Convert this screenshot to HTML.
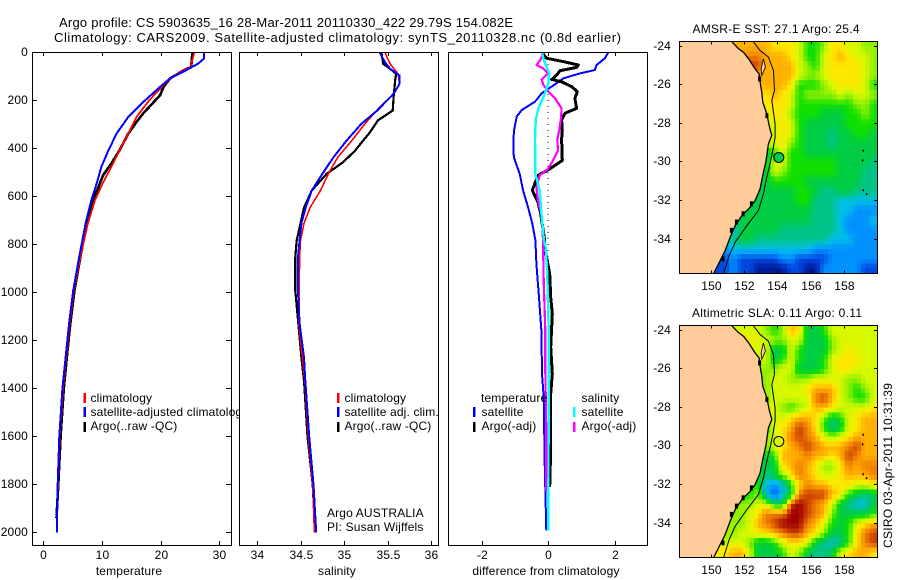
<!DOCTYPE html>
<html>
<head>
<meta charset="utf-8">
<title>Argo profile</title>
<style>
html,body{margin:0;padding:0;background:#fff;}
svg{display:block;}
text{font-family:"Liberation Sans",sans-serif;font-size:12px;fill:#000;letter-spacing:0.15px;}
text[textLength]{letter-spacing:0;}
.box{fill:none;stroke:#000;stroke-width:1;shape-rendering:crispEdges;}
.bg{fill:#fff;stroke:none;}
.sw{shape-rendering:crispEdges;}
</style>
</head>
<body>
<svg id="fig" xmlns="http://www.w3.org/2000/svg" width="900" height="580" viewBox="0 0 900 580">
<defs>
<clipPath id="clip-map1"><rect x="679.5" y="41.5" width="198" height="232"/></clipPath>
<clipPath id="clip-map2"><rect x="679.5" y="325.5" width="198" height="232"/></clipPath>
</defs>
<rect width="900" height="580" fill="#fff"/>
<text x="59" y="27" style="font-size:13px" textLength="454">Argo profile: CS 5903635_16 28-Mar-2011 20110330_422 29.79S 154.082E</text>
<text x="54" y="42" style="font-size:13px" textLength="567">Climatology: CARS2009. Satellite-adjusted climatology: synTS_20110328.nc (0.8d earlier)</text>

<g id="p1">
<rect class="bg" x="32" y="52" width="199" height="493"/>
<g id="p1-lines"></g>
<rect class="sw" x="83.5" y="393" width="2.5" height="10" fill="#f00"/>
<rect class="sw" x="83.5" y="407" width="2.5" height="10" fill="#00f"/>
<rect class="sw" x="83.5" y="422" width="2.5" height="10" fill="#000"/>
<text x="90.5" y="402">climatology</text>
<text x="90.5" y="416">satellite-adjusted climatology</text>
<text x="90.5" y="430">Argo(..raw -QC)</text>
<rect class="box" x="32.5" y="52.5" width="199" height="493"/>
<g id="p1-axes"></g>
<text x="129" y="575" text-anchor="middle">temperature</text>
</g>

<g id="p2">
<rect class="bg" x="239" y="48" width="205" height="500"/>
<g id="p2-lines"></g>
<rect class="sw" x="337" y="393" width="2.5" height="10" fill="#f00"/>
<rect class="sw" x="337" y="407" width="2.5" height="10" fill="#00f"/>
<rect class="sw" x="337" y="422" width="2.5" height="10" fill="#000"/>
<text x="344.5" y="402">climatology</text>
<text x="344.5" y="416">satellite adj. clim.</text>
<text x="344.5" y="430">Argo(..raw -QC)</text>
<text x="327" y="517">Argo AUSTRALIA</text>
<text x="327" y="531">PI: Susan Wijffels</text>
<rect class="box" x="239.5" y="52.5" width="199" height="493"/>
<g id="p2-axes"></g>
<text x="337" y="575" text-anchor="middle">salinity</text>
</g>

<g id="p3">
<g id="p3-lines"></g>
<text x="481" y="402">temperature</text>
<text x="481.5" y="416">satellite</text>
<text x="481.5" y="430">Argo(-adj)</text>
<text x="581.5" y="402">salinity</text>
<text x="581.5" y="416">satellite</text>
<text x="581.5" y="430">Argo(-adj)</text>
<rect class="sw" x="473" y="407" width="2.5" height="10" fill="#00f"/>
<rect class="sw" x="473" y="422" width="2.5" height="10" fill="#000"/>
<rect class="sw" x="573" y="407" width="2.5" height="10" fill="#0ff"/>
<rect class="sw" x="573" y="422" width="2.5" height="10" fill="#f0f"/>
<rect class="box" x="448.5" y="52.5" width="199" height="493"/>
<g id="p3-axes"></g>
<text x="546" y="575" text-anchor="middle">difference from climatology</text>
</g>

<g id="map1">
<text x="776" y="33" text-anchor="middle" textLength="167">AMSR-E SST: 27.1 Argo: 25.4</text>
<g id="map1-cells" clip-path="url(#clip-map1)"></g>
<rect class="box" x="679.5" y="41.5" width="198" height="232"/>
<g id="map1-axes"></g>
</g>

<g id="map2">
<text x="777" y="317" text-anchor="middle" textLength="170">Altimetric SLA: 0.11 Argo: 0.11</text>
<g id="map2-cells" clip-path="url(#clip-map2)"></g>
<rect class="box" x="679.5" y="325.5" width="198" height="232"/>
<g id="map2-axes"></g>
</g>
<text transform="translate(892,548) rotate(-90)" textLength="165">CSIRO 03-Apr-2011 10:31:39</text>
</svg>

<script>
// ---------- depth-profile data ----------
const depthTicks = [0,200,400,600,800,1000,1200,1400,1600,1800,2000];
const tempTicks = [0,10,20,30];
const salTicks = [34,34.5,35,35.5,36];
const salTickLabels = ['34','34.5','35','35.5','36'];
const diffTicks = [-2,0,2];

const tempClimDepth = [0,60,95,130,200,268,337,407,476,546,615,712,854,992,1129,1271,1400,1600,1800,2000];
const tempClim = [25.7,25.1,22.4,20.7,18,15.9,14.5,13,11.6,10.1,8.8,7.6,6.3,5.2,4.5,3.9,3.35,2.8,2.5,2.3];
const tempArgoDepth = [0,60,74,108,143,178,212,254,289,337,407,462,511,560,615,712,854,992,1129,1271,1400,1600,1800,1940];
const tempArgo = [25.4,25.2,23.9,21.6,20.5,19.9,18.6,17,15.9,14.5,13,11.6,10.2,9.4,8.5,7.4,6.3,5.3,4.6,4,3.5,2.95,2.55,2.25];
const tempSatDepth = [0,25,46,80,108,143,200,268,337,407,476,546,615,712,854,992,1129,1271,1400,1600,1800,2000];
const tempSat = [27.4,27.4,26.4,23.9,21.6,19.9,17.3,14.5,12.5,11.1,9.9,9.1,8.2,7.2,6.1,5.1,4.4,3.8,3.25,2.73,2.45,2.3];

const salClimDepth = [0,47,89,130,172,228,297,367,436,506,575,646,712,783,854,1129,1367,1600,1800,2000];
const salClim = [35.47,35.53,35.62,35.64,35.57,35.41,35.24,35.09,34.93,34.82,34.73,34.61,34.54,34.5,34.49,34.48,34.55,34.59,34.64,34.66];
const salArgoDepth = [0,47,68,89,110,186,242,283,332,367,408,457,506,575,646,712,783,854,992,1129,1271,1367,1600,1800,1940];
const salArgo = [35.43,35.45,35.53,35.6,35.59,35.57,35.56,35.39,35.3,35.22,35.13,34.99,34.8,34.63,34.54,34.5,34.456,34.44,34.44,34.475,34.51,34.54,34.58,34.64,34.66];
const salSatDepth = [0,40,68,96,130,172,242,297,367,436,506,575,646,712,783,854,992,1129,1271,1367,1600,1800,2000];
const salSat = [35.41,35.47,35.53,35.64,35.64,35.57,35.38,35.2,35.03,34.88,34.75,34.63,34.56,34.51,34.49,34.47,34.47,34.49,34.54,34.555,34.6,34.65,34.68];

const diffTempSatDepth = [0,24,52,73,87,108,128,170,205,240,267,323,362,436,506,575,644,714,783,881,1020,1159,1339,1436,1714,1992];
const diffTempSat = [1.81,1.71,1.46,1.41,.96,.46,.26,-.19,-.39,-.79,-.94,-1.02,-1.04,-1.03,-.85,-.75,-.6,-.47,-.38,-.35,-.27,-.2,-.18,-.13,-.1,-.05];
const diffTempArgoDepth = [0,24,38,52,62,76,94,112,122,142,163,191,233,253,281,323,362,450,485,512,547,575,624,672,783,811,922,1020,1089,1228,1339,1422,1575,1714,1811];
const diffTempArgo = [-.19,-.04,.46,.91,.86,.36,.26,.11,.41,.71,.88,.81,.86,.51,.41,.43,.41,.43,.05,-.3,-.4,-.47,-.3,-.22,-.1,-.1,.05,.08,.13,.08,.13,.08,.07,.07,.05];
const diffSalArgoDepth = [0,28,52,66,87,112,135,163,191,233,274,323,362,408,450,485,512,561,617,686,783,950,1159,1325,1575,1825];
const diffSalArgo = [-.14,-.22,-.34,-.14,0,-.19,-.14,.01,.21,.41,.39,.34,.28,.3,.15,0,-.25,-.35,-.3,-.18,-.15,-.13,-.08,-.08,-.05,-.05];
const diffSalSatDepth = [0,45,87,128,170,233,281,362,506,575,672,783,811,922,1159,1436,1992];
const diffSalSat = [-.19,-.09,.04,.01,-.09,-.29,-.37,-.39,-.38,-.25,-.2,-.12,-.07,-.02,.02,.02,.01];

// ---------- map data (colour-level per cell; rows are right-aligned to the eastern edge) ----------
const mapLonTicks = [150,152,154,156,158];
const mapLatTicks = [24,26,28,30,32,34];
const colourLevels = ['#001a9a','#0048e0','#0090ff','#00bfe8','#00c488','#00cc44','#10e000','#90f000','#d8f800','#ffe800','#ffb000','#f08000','#c84000','#a00000'];
const sstGrid = [
[10,10,10,10,10,9,9,9,8,6,6,7,9,9,8,8,7,7],
[10,11,11,10,10,10,9,8,6,6,8,9,10,9,8,8,7],
[12,10,10,10,10,8,7,6,8,9,9,9,9,8,7],
[10,10,10,10,10,8,7,7,8,9,9,9,9,8,7],
[10,10,10,9,6,6,6,7,8,9,9,9,8,6],
[9,10,9,8,6,7,7,7,7,8,7,8,8,7],
[9,9,9,8,6,6,6,6,6,6,6,7,7,6],
[8,9,9,7,6,6,6,5,5,5,6,6,7,6],
[8,9,8,6,5,5,5,5,5,6,6,6,6],
[8,9,8,6,5,5,5,4,5,5,6,6,5],
[8,9,7,6,5,5,5,4,5,5,5,5,5],
[5,6,8,6,6,5,5,5,5,5,5,5,5,5],
[5,8,8,6,6,6,6,6,6,5,5,5,5,4],
[5,8,7,6,6,6,6,6,6,5,5,5,4,4],
[5,5,6,6,6,6,5,5,5,5,5,5,5,4,4],
[5,5,5,5,5,6,6,5,4,4,5,5,4,4,4],
[5,5,5,5,5,5,6,6,4,4,4,3,3,3,3,3],
[5,5,5,5,5,5,5,5,5,4,4,4,3,3,2,2,2],
[4,5,5,5,5,5,5,5,5,5,4,4,4,3,2,2,2,3],
[3,5,5,5,5,5,4,4,4,4,4,4,4,3,2,2,2,2],
[3,4,5,5,4,4,4,4,4,4,4,4,4,3,3,3,2,2,2],
[2,3,3,3,3,3,3,3,3,3,3,2,2,2,2,2,2,2,2],
[1,2,1,1,1,1,1,2,2,1,1,1,1,2,2,2,2,2,2],
[1,1,2,1,1,0,0,0,0,1,1,0,0,2,2,2,2,2,1,1]
];
const slaGrid = [
[8,8,8,8,7,6,7,10,9,5,5,6,8,8,8,8,8,8],
[9,8,8,7,7,8,8,5,5,5,7,8,8,8,8,8],
[8,8,5,5,8,6,5,5,5,7,8,9,8,8,8],
[8,8,5,6,8,6,5,5,6,8,9,9,9,8,8],
[7,7,8,8,5,5,5,6,8,9,9,8,8,8],
[7,8,8,7,7,7,8,8,8,8,7,7,8,8],
[7,8,8,8,8,9,10,10,10,8,7,6,7,8],
[7,8,8,8,8,8,11,12,10,8,7,6,6,8],
[8,7,6,7,8,10,10,9,8,8,8,8,9],
[8,8,9,10,10,9,7,5,6,8,9,10,10],
[6,8,9,10,12,11,9,6,4,5,8,9,10,10],
[7,8,9,11,12,11,10,8,7,8,9,10,10,10],
[7,8,9,10,11,12,11,10,10,10,11,12,10,10],
[5,6,10,10,10,11,10,10,9,10,12,11,10,10],
[6,5,5,9,10,11,10,9,7,7,9,11,10,11,11],
[6,4,5,7,9,11,10,9,8,8,9,10,10,10,11],
[6,6,3,2,3,6,9,11,10,10,9,9,9,8,8,9],
[6,6,7,3,1,3,5,11,12,12,12,10,9,6,5,4,5],
[7,7,7,8,8,5,5,12,13,12,11,10,8,5,4,3,3,5],
[7,7,8,9,11,11,11,13,13,12,11,10,7,5,5,5,5,6],
[8,7,7,8,10,11,12,13,13,13,11,10,8,6,5,6,8,9,10],
[7,7,8,8,9,9,10,11,12,12,10,9,7,5,5,6,9,11,12],
[8,8,8,7,5,5,6,8,9,9,8,5,4,3,4,6,9,11,12],
[9,9,10,10,8,5,5,5,6,8,7,5,4,4,5,8,9,10,10,9]
];
const coastLon = [151.28,151.68,151.98,152.28,152.67,152.91,152.97,153.07,153.13,153.37,153.53,153.67,153.47,153.33,153.11,152.97,152.67,152.38,151.88,151.48,151.18,150.88,150.58,150.18];
const coastLat = [23.81,24.17,24.35,24.69,25.21,25.47,25.9,26.42,26.94,27.54,28.23,28.66,29.1,29.96,30.82,31.43,32.03,32.38,32.81,33.33,33.93,34.62,35.14,35.83];
const isobathLon = [152.57,152.97,153.47,153.77,153.83,153.67,153.87,153.87,153.73,153.57,153.37,153.17,152.87,152.18,151.48,151.12,150.78];
const isobathLat = [23.81,24.26,24.6,25.3,26.33,26.85,28.06,28.75,29.44,30.13,30.82,31.69,32.55,33.33,34.19,34.88,35.83];
const islandLon = [153.17,153.29,153.07,153.03];
const islandLat = [24.69,25.12,25.55,25.21];
const reefLon = [159.1,159.06,159.1,159.3];
const reefLat = [29.4,29.9,31.45,31.65];
const inletLon = [152.97,153.41,151.98,151.58,151.28,150.78,152.48];
const inletLat = [25.73,27.63,32.72,33.15,33.58,35.05,32.2];
const argoLon = 154.09;
const argoLat = 29.8;
const argoSstLevel = 5;
const argoSlaLevel = 8;
const gridLonStart = 148.15, gridLonStep = 0.494, gridLatStart = 23.8, gridLatStep = 0.5;

// ---------- helpers ----------
const NS = 'http://www.w3.org/2000/svg';
const depthY = d => 52.5 + 0.24 * d;
const tempX = t => 43.3 + 5.87 * t;
const salX = s => 257 + 87 * (s - 34);
const diffX = v => 548 + 33.25 * v;
function make(tag, attrs, parent) {
  const el = document.createElementNS(NS, tag);
  for (const k in attrs) el.setAttribute(k, attrs[k]);
  parent.appendChild(el);
  return el;
}
function series(groupId, scale, depths, values, colour, width, name) {
  const pts = values.map((v, i) => scale(v).toFixed(1) + ',' + depthY(depths[i]).toFixed(1)).join(' ');
  const el = make('polyline', {points: pts, fill: 'none', stroke: colour, 'stroke-width': width, 'stroke-linejoin': 'round', 'shape-rendering': 'crispEdges'}, document.getElementById(groupId));
  
  
}
function tick(parent, x1, y1, x2, y2) {
  const el = make('line', {x1: x1, y1: y1, x2: x2, y2: y2, stroke: '#000', 'stroke-width': 1, 'shape-rendering': 'crispEdges'}, parent);
  
  
}
function label(parent, x, y, anchor, str) {
  const el = make('text', {x: x, y: y, 'text-anchor': anchor}, parent);
  el.textContent = str;
  
  
}
function xAxis(groupId, ticks, scale, labels) {
  const g = document.getElementById(groupId);
  ticks.forEach((t, i) => {
    const x = Math.round(scale(t)) + 0.5;
    tick(g, x, 52, x, 56);
    tick(g, x, 545, x, 541);
    label(g, x, 559, 'middle', labels ? labels[i] : String(t));
  });
}

// ---------- profile panels ----------
series('p1-lines', tempX, tempArgoDepth, tempArgo, '#000', 2.6, 'temperature-argo-line');
series('p1-lines', tempX, tempClimDepth, tempClim, '#f00', 1.8, 'temperature-climatology-line');
series('p1-lines', tempX, tempSatDepth, tempSat, '#00f', 2, 'temperature-satellite-line');
series('p2-lines', salX, salArgoDepth, salArgo, '#000', 2.2, 'salinity-argo-line');
series('p2-lines', salX, salClimDepth, salClim, '#f00', 1.6, 'salinity-climatology-line');
series('p2-lines', salX, salSatDepth, salSat, '#00f', 2, 'salinity-satellite-line');

const zeroLine = make('line', {x1: diffX(0), y1: 52, x2: diffX(0), y2: depthY(1990), stroke: '#000', 'stroke-width': 1, 'stroke-dasharray': '1 5', 'shape-rendering': 'crispEdges'}, document.getElementById('p3-lines'));


series('p3-lines', diffX, diffTempSatDepth, diffTempSat, '#00f', 2, 'difference-temperature-satellite-line');
series('p3-lines', diffX, diffTempArgoDepth, diffTempArgo, '#000', 3, 'difference-temperature-argo-line');
series('p3-lines', diffX, diffSalArgoDepth, diffSalArgo, '#f0f', 2.2, 'difference-salinity-argo-line');
series('p3-lines', diffX, diffSalSatDepth, diffSalSat, '#0ff', 2.4, 'difference-salinity-satellite-line');

xAxis('p1-axes', tempTicks, tempX);
xAxis('p2-axes', salTicks, salX, salTickLabels);
xAxis('p3-axes', diffTicks, diffX);
const p1Axes = document.getElementById('p1-axes');
depthTicks.forEach(d => {
  const y = Math.round(depthY(d) - 0.5) + 0.5;
  tick(p1Axes, 32, y, 37, y);
  tick(p1Axes, 231, y, 226, y);
  label(p1Axes, 28, y + 3.5, 'end', String(d));
});

// ---------- maps ----------
function levelAt(grid, col, row) {
  const r = grid[Math.max(0, Math.min(grid.length - 1, row))];
  const c = Math.max(0, Math.min(23, col));
  const offset = 24 - r.length;
  return c < offset ? r[0] : r[c - offset];
}
function hexToRgb(hex) {
  return [parseInt(hex.slice(1, 3), 16), parseInt(hex.slice(3, 5), 16), parseInt(hex.slice(5, 7), 16)];
}
function levelColour(level) {
  const lo = Math.max(0, Math.min(colourLevels.length - 1, Math.floor(level)));
  const hi = Math.min(colourLevels.length - 1, lo + 1);
  const f = level - lo;
  const a = hexToRgb(colourLevels[lo]);
  const b = hexToRgb(colourLevels[hi]);
  return 'rgb(' + a.map((v, i) => Math.round(v + (b[i] - v) * f)).join(',') + ')';
}
function sampleLevel(grid, u, v) {
  const c0 = Math.floor(u), r0 = Math.floor(v);
  const fu = u - c0, fv = v - r0;
  const top = levelAt(grid, c0, r0) * (1 - fu) + levelAt(grid, c0 + 1, r0) * fu;
  const bot = levelAt(grid, c0, r0 + 1) * (1 - fu) + levelAt(grid, c0 + 1, r0 + 1) * fu;
  return top * (1 - fv) + bot * fv;
}
function drawMap(prefix, grid, top, argoLevel) {
  const lonX = l => 710.5 + 16.7 * (l - 150);
  const latY = a => top + 4 + 19.3 * (a - 24);
  const cells = document.getElementById(prefix + '-cells');
  const axes = document.getElementById(prefix + '-axes');
  const sub = 2;
  for (let j = 0; j < grid.length * sub; j++) {
    for (let i = 0; i < 24 * sub; i++) {
      const level = sampleLevel(grid, (i + 0.5) / sub - 0.5, (j + 0.5) / sub - 0.5);
      const x0 = lonX(gridLonStart + i / sub * gridLonStep);
      const x1 = lonX(gridLonStart + (i + 1) / sub * gridLonStep);
      const y0 = latY(gridLatStart + j / sub * gridLatStep);
      const y1 = latY(gridLatStart + (j + 1) / sub * gridLatStep);
      const cell = make('rect', {x: x0.toFixed(2), y: y0.toFixed(2), width: (x1 - x0 + 0.4).toFixed(2), height: (y1 - y0 + 0.4).toFixed(2), fill: levelColour(level), 'shape-rendering': 'crispEdges'}, cells);
      
      
    }
  }
  const coastPts = coastLon.map((l, i) => lonX(l).toFixed(1) + ',' + latY(coastLat[i]).toFixed(1));
  const land = make('polygon', {points: coastPts.join(' ') + ' 660,' + (top + 260) + ' 660,' + (top - 10), fill: '#ffcc99', stroke: 'none'}, cells);
  
  
  const coast = make('polyline', {points: coastPts.join(' '), fill: 'none', stroke: '#000', 'stroke-width': 1.3}, cells);
  
  
  inletLon.forEach((l, i) => {
    const inlet = make('rect', {x: (lonX(l) - 2).toFixed(1), y: (latY(inletLat[i]) - 2.5).toFixed(1), width: 3, height: 5, fill: '#000'}, cells);
    
    
  });
  const island = make('polygon', {points: islandLon.map((l, i) => lonX(l).toFixed(1) + ',' + latY(islandLat[i]).toFixed(1)).join(' '), fill: '#ffcc99', stroke: '#000', 'stroke-width': 0.8}, cells);
  
  
  const iso = make('polyline', {points: isobathLon.map((l, i) => lonX(l).toFixed(1) + ',' + latY(isobathLat[i]).toFixed(1)).join(' '), fill: 'none', stroke: '#000', 'stroke-width': 1}, cells);
  
  
  reefLon.forEach((l, i) => {
    const reef = make('rect', {x: lonX(l), y: latY(reefLat[i]), width: 1.5, height: 2, fill: '#000'}, cells);
    
    
  });
  const marker = make('circle', {cx: lonX(argoLon), cy: latY(argoLat), r: 5, fill: colourLevels[argoLevel], stroke: '#000', 'stroke-width': 1}, cells);
  
  
  const bottom = top + 232;
  mapLonTicks.forEach(l => {
    const x = Math.round(lonX(l)) + 0.5;
    tick(axes, x, top, x, top + 3);
    tick(axes, x, bottom, x, bottom - 3);
    label(axes, x, bottom + 16.5, 'middle', String(l));
  });
  mapLatTicks.forEach(a => {
    const y = Math.round(latY(a)) + 0.5;
    tick(axes, 679, y, 682, y);
    tick(axes, 877, y, 874, y);
    label(axes, 671, y + 3.5, 'end', '-' + a);
  });
}
drawMap('map1', sstGrid, 41.5, argoSstLevel);
drawMap('map2', slaGrid, 325.5, argoSlaLevel);
</script>
</body>
</html>
